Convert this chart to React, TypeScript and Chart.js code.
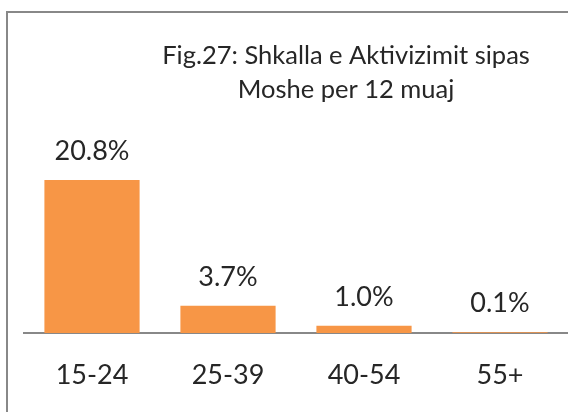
import React, { useEffect, useRef } from "react";
import { Chart, registerables } from "chart.js";

Chart.register(...registerables);

const categories = ["15-24", "25-39", "40-54", "55+"];
const values = [20.8, 3.7, 1.0, 0.1];
const titleLines = ["Fig.27: Shkalla e Aktivizimit sipas", "Moshe per 12 muaj"];

const FONT = "Lato, 'Open Sans', sans-serif";
const TEXT = "#262626";

const framePlugin = {
  id: "frame",
  beforeDraw(chart: any) {
    const ctx = chart.ctx;
    ctx.save();
    ctx.strokeStyle = "#888888";
    ctx.lineWidth = 2;
    ctx.beginPath();
    ctx.moveTo(7, 412);
    ctx.lineTo(7, 12);
    ctx.lineTo(568, 12);
    ctx.stroke();
    ctx.restore();
  },
};

const labelPlugin = {
  id: "labels",
  afterDatasetsDraw(chart: any) {
    const ctx = chart.ctx;
    const meta = chart.getDatasetMeta(0);
    ctx.save();
    ctx.fillStyle = TEXT;
    ctx.font = `27px ${FONT}`;
    ctx.textAlign = "center";
    ctx.textBaseline = "alphabetic";
    meta.data.forEach((bar: any, i: number) => {
      ctx.fillText(values[i].toFixed(1) + "%", bar.x, bar.y - 20);
    });
    ctx.restore();
  },
};

const titlePlugin = {
  id: "customTitle",
  afterDraw(chart: any) {
    const ctx = chart.ctx;
    ctx.save();
    ctx.fillStyle = TEXT;
    ctx.font = `25.5px ${FONT}`;
    ctx.textAlign = "center";
    ctx.textBaseline = "alphabetic";
    titleLines.forEach((line, i) => {
      ctx.fillText(line, 346, 64 + i * 34);
    });
    ctx.restore();
  },
};

export default function App() {
  const ref = useRef<HTMLCanvasElement>(null);
  useEffect(() => {
    document.body.style.margin = "0";
    const chart = new Chart(ref.current!, {
      type: "bar",
      data: {
        labels: categories,
        datasets: [
          {
            data: values,
            backgroundColor: "#F79646",
            barPercentage: 0.7,
            categoryPercentage: 1,
          },
        ],
      },
      options: {
        animation: false,
        responsive: false,
        layout: { padding: { left: 24, right: 0, top: 149, bottom: 0 } },
        plugins: { legend: { display: false }, tooltip: { enabled: false }, title: { display: false } },
        scales: {
          x: {
            grid: { display: false },
            border: { display: true, color: "#888888", width: 2 },
            ticks: { color: TEXT, font: { family: FONT, size: 27 }, padding: 18 },
            afterFit(scale: any) {
              scale.height = 79;
            },
          },
          y: {
            display: false,
            min: 0,
            max: 25,
          },
        },
      },
      plugins: [framePlugin, labelPlugin, titlePlugin],
    });
    return () => chart.destroy();
  }, []);
  return (
    <div style={{ position: "absolute", left: 0, top: 0, width: 568, height: 412 }}>
      <canvas ref={ref} width={568} height={412} style={{ display: "block" }} />
    </div>
  );
}
